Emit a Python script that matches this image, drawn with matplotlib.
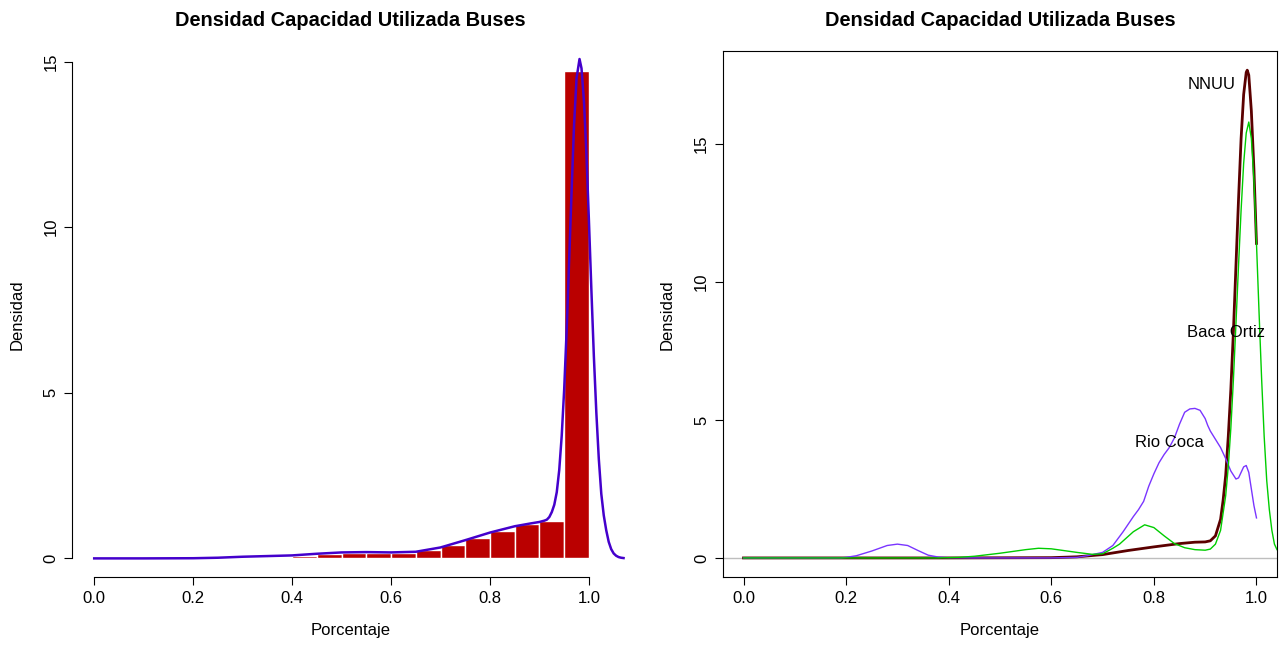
import matplotlib
matplotlib.use("Agg")
import matplotlib.pyplot as plt
import numpy as np

plt.rcParams['font.family'] = ['Liberation Sans', 'DejaVu Sans']

# histogram (left panel): breaks every 0.05, density heights
hist_breaks = [0.00, 0.05, 0.10, 0.15, 0.20, 0.25, 0.30, 0.35, 0.40, 0.45, 0.50,
               0.55, 0.60, 0.65, 0.70, 0.75, 0.80, 0.85, 0.90, 0.95, 1.00]
hist_heights = [0, 0, 0, 0, 0, 0, 0.02, 0.03, 0.06, 0.12, 0.15,
                0.15, 0.15, 0.24, 0.39, 0.62, 0.83, 1.03, 1.13, 14.71]

# density curve over the histogram
dens_x = [0.0, 0.1, 0.2, 0.25, 0.3, 0.35, 0.4, 0.45, 0.5, 0.55, 0.6, 0.65, 0.7,
          0.75, 0.8, 0.85, 0.88, 0.9, 0.91, 0.915, 0.92, 0.925, 0.93, 0.935,
          0.94, 0.945, 0.95, 0.955, 0.96, 0.965, 0.97, 0.975, 0.981, 0.985,
          0.99, 0.995, 1.0, 1.005, 1.01, 1.015, 1.02, 1.025, 1.03, 1.035,
          1.04, 1.045, 1.05, 1.055, 1.06, 1.065, 1.07]
dens_y = [0.0, 0.0, 0.005, 0.02, 0.05, 0.07, 0.09, 0.14, 0.18, 0.19, 0.18, 0.2, 0.33,
          0.55, 0.78, 0.97, 1.05, 1.1, 1.14, 1.17, 1.25, 1.4, 1.62, 2.0,
          2.67, 3.7, 5.1, 6.9, 9.0, 11.1, 13.1, 14.5, 15.08, 14.8,
          13.8, 12.2, 10.2, 8.1, 6.1, 4.4, 3.0, 1.95, 1.3, 0.85,
          0.5, 0.28, 0.15, 0.08, 0.04, 0.02, 0.01]

# right panel: density per terminal
nnuu_x = [0.0, 0.2, 0.4, 0.6, 0.65, 0.7, 0.75, 0.8, 0.85, 0.88, 0.9, 0.91, 0.92,
          0.93, 0.935, 0.94, 0.945, 0.95, 0.955, 0.96, 0.965, 0.97, 0.975,
          0.98, 0.982, 0.985, 0.99, 0.995, 1.0]
nnuu_y = [0.0, 0.0, 0.0, 0.01, 0.04, 0.12, 0.27, 0.4, 0.52, 0.57, 0.58, 0.62, 0.8,
          1.4, 2.1, 3.0, 4.4, 6.1, 8.2, 10.6, 13.0, 15.2, 16.8,
          17.6, 17.68, 17.5, 16.2, 14.1, 11.4]

coca_x = [0.0, 0.19, 0.2, 0.22, 0.25, 0.28, 0.3, 0.32, 0.34, 0.36, 0.38, 0.4,
          0.45, 0.6, 0.65, 0.67, 0.7, 0.72, 0.74, 0.76, 0.77, 0.78, 0.79, 0.8,
          0.81, 0.82, 0.83, 0.84, 0.85, 0.86, 0.87, 0.88, 0.89, 0.9, 0.905,
          0.91, 0.92, 0.93, 0.94, 0.95, 0.96, 0.965, 0.97, 0.975, 0.98,
          0.985, 0.99, 0.995, 1.0]
coca_y = [0.0, 0.0, 0.02, 0.08, 0.25, 0.45, 0.5, 0.45, 0.27, 0.1, 0.03, 0.01,
          0.0, 0.0, 0.02, 0.08, 0.2, 0.45, 0.95, 1.5, 1.75, 2.05, 2.6, 3.05,
          3.45, 3.75, 4.0, 4.35, 4.85, 5.28, 5.4, 5.42, 5.35, 5.05, 4.8,
          4.6, 4.3, 4.0, 3.6, 3.15, 2.86, 2.9, 3.1, 3.3, 3.35,
          3.1, 2.5, 1.9, 1.45]

baca_x = [0.0, 0.38, 0.42, 0.45, 0.5, 0.55, 0.575, 0.6, 0.65, 0.68, 0.7, 0.72,
          0.733, 0.76, 0.782, 0.8, 0.82, 0.84, 0.86, 0.88, 0.9, 0.91, 0.92,
          0.93, 0.94, 0.945, 0.95, 0.955, 0.96, 0.965, 0.97, 0.975, 0.98,
          0.985, 0.99, 0.995, 1.0, 1.005, 1.01, 1.015, 1.02, 1.025, 1.03,
          1.035, 1.04]
baca_y = [0.0, 0.0, 0.02, 0.06, 0.17, 0.3, 0.35, 0.33, 0.2, 0.13, 0.15, 0.35,
          0.5, 0.95, 1.2, 1.1, 0.8, 0.52, 0.37, 0.3, 0.28, 0.32, 0.5,
          1.0, 2.26, 3.3, 4.7, 6.45, 8.5, 10.6, 12.6, 14.3, 15.4,
          15.8, 15.2, 13.7, 11.4, 8.9, 6.5, 4.4, 2.8, 1.76, 1.0,
          0.5, 0.3]

labels = ['NNUU', 'Baca Ortiz', 'Rio Coca']
label_x = [0.912, 0.9415, 0.831]
label_y = [17.16, 8.17, 4.18]

title = 'Densidad Capacidad Utilizada Buses'

fig = plt.figure(figsize=(12.84, 6.45), dpi=100)
ax1 = fig.add_axes([72.3 / 1284, 67.6 / 645, 555.7 / 1284, 526 / 645])
ax2 = fig.add_axes([723 / 1284, 67.6 / 645, 554 / 1284, 526 / 645])


def style_axis(ax, ylab_x):
    ax.tick_params(direction='out', length=6, width=0.8, labelsize=12, pad=4)
    ax.set_xticks([0.0, 0.2, 0.4, 0.6, 0.8, 1.0])
    ax.set_xticklabels(['0.0', '0.2', '0.4', '0.6', '0.8', '1.0'])
    ax.set_yticks([0, 5, 10, 15])
    ax.set_yticklabels(['0', '5', '10', '15'], rotation=90, va='center')
    ax.set_xlabel('Porcentaje', fontsize=12, va='center')
    ax.set_ylabel('Densidad', fontsize=12, va='center')
    ax.xaxis.set_label_coords(0.5, -0.100)
    ax.yaxis.set_label_coords(ylab_x, 0.5)
    ax.text(0.5, 1.0586, title, transform=ax.transAxes, ha='center', va='center',
            fontsize=14.4, fontweight='bold')


# left: histogram + density
widths = np.diff(hist_breaks)
ax1.bar(hist_breaks[:-1], hist_heights, width=widths, align='edge',
        color='#BA0000', edgecolor='white', linewidth=1.0)
ax1.plot(dens_x, dens_y, color='#4400CC', linewidth=1.8, clip_on=False)
ax1.set_xlim(-0.0443, 1.079)
ax1.set_ylim(-0.574, 15.31)
for s in ['top', 'right']:
    ax1.spines[s].set_visible(False)
ax1.spines['left'].set_bounds(0, 15)
ax1.spines['bottom'].set_bounds(0, 1)
style_axis(ax1, -0.0988)

# right: three densities
ax2.axhline(0, color='#BEBEBE', linewidth=1.0, zorder=1)
ax2.plot(nnuu_x, nnuu_y, color='#5B0000', linewidth=2.0, zorder=2)
ax2.plot(coca_x, coca_y, color='#7A35FF', linewidth=1.0, zorder=3)
ax2.plot(baca_x, baca_y, color='#00CD00', linewidth=1.0, zorder=4)
for t, x, y in zip(labels, label_x, label_y):
    ax2.text(x, y, t, ha='center', va='center', fontsize=12, zorder=5)
ax2.set_xlim(-0.04, 1.04)
ax2.set_ylim(-0.706, 18.36)
style_axis(ax2, -0.101)

fig.savefig('out.png', dpi=100)
